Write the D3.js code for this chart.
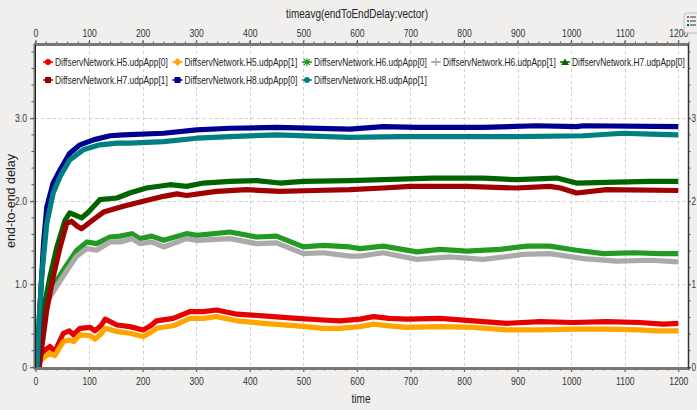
<!DOCTYPE html>
<html><head><meta charset="utf-8">
<script src="https://cdn.jsdelivr.net/npm/d3@7"></script>
<style>
html,body{margin:0;padding:0;background:#f0efed;}
svg{display:block;}
</style></head>
<body><svg id="chart" width="697" height="410"></svg>
<script>
// ---- data (time, value) ----
const seriesNames = ["DiffservNetwork.H5.udpApp[0]","DiffservNetwork.H5.udpApp[1]","DiffservNetwork.H6.udpApp[0]","DiffservNetwork.H6.udpApp[1]","DiffservNetwork.H7.udpApp[0]","DiffservNetwork.H7.udpApp[1]","DiffservNetwork.H8.udpApp[0]","DiffservNetwork.H8.udpApp[1]"];
const seriesColors = ["#e60000","#ffa500","#239b23","#aaaaaa","#006400","#a00000","#000090","#008080"];
const seriesMarkers = ["circle","diamond","star","plus","triangle","square","square","circle"];

const h5App0 = [[0,0],[8,0.13],[16,0.2],[27,0.25],[36,0.19],[52,0.41],[63,0.44],[71,0.39],[83,0.47],[102,0.48],[111,0.44],[122,0.5],[130,0.58],[152,0.51],[176,0.49],[201,0.45],[215,0.5],[226,0.56],[257,0.59],[288,0.67],[313,0.67],[338,0.69],[376,0.64],[425,0.62],[488,0.59],[537,0.57],[568,0.56],[606,0.58],[631,0.61],[660,0.59],[693,0.58],[755,0.59],[817,0.56],[880,0.53],[942,0.55],[1004,0.54],[1066,0.55],[1128,0.54],[1172,0.52],[1200,0.53]];
const h5App1 = [[0,0],[8,0.07],[16,0.12],[27,0.17],[36,0.14],[52,0.31],[63,0.33],[71,0.31],[83,0.39],[102,0.38],[111,0.34],[122,0.4],[130,0.47],[152,0.43],[176,0.41],[201,0.37],[215,0.42],[226,0.47],[257,0.5],[288,0.59],[313,0.59],[338,0.61],[376,0.56],[425,0.53],[488,0.5],[537,0.47],[568,0.47],[606,0.49],[631,0.52],[660,0.5],[693,0.48],[755,0.49],[817,0.48],[880,0.45],[942,0.45],[1004,0.46],[1066,0.46],[1128,0.45],[1160,0.44],[1200,0.44]];
const h6App0 = [[5,0],[10,0.45],[15,0.7],[21,0.85],[30,0.95],[40,1.05],[58,1.23],[77,1.41],[96,1.51],[114,1.49],[139,1.57],[158,1.58],[180,1.61],[195,1.55],[217,1.58],[239,1.53],[282,1.61],[301,1.59],[363,1.63],[413,1.57],[450,1.58],[500,1.45],[537,1.47],[587,1.45],[606,1.43],[649,1.46],[712,1.39],[755,1.42],[805,1.4],[867,1.42],[917,1.46],[960,1.46],[1010,1.41],[1060,1.37],[1116,1.38],[1166,1.37],[1200,1.37]];
const h6App1 = [[5,0],[10,0.38],[15,0.62],[21,0.77],[30,0.88],[40,0.98],[58,1.16],[77,1.34],[96,1.43],[114,1.41],[139,1.51],[158,1.51],[180,1.55],[195,1.49],[217,1.51],[239,1.45],[282,1.55],[301,1.53],[363,1.55],[413,1.49],[450,1.5],[500,1.37],[537,1.38],[587,1.34],[606,1.34],[649,1.38],[712,1.3],[773,1.33],[836,1.3],[910,1.36],[960,1.37],[1023,1.31],[1085,1.28],[1148,1.29],[1200,1.27]];
const h7App0 = [[5,0],[10,0.35],[15,0.69],[27,1.09],[40,1.45],[55,1.77],[64,1.86],[75,1.83],[86,1.8],[99,1.87],[120,2.02],[152,2.04],[176,2.1],[207,2.16],[251,2.2],[282,2.18],[313,2.22],[363,2.24],[413,2.25],[456,2.22],[500,2.24],[587,2.25],[649,2.26],[742,2.28],[836,2.28],[898,2.26],[973,2.28],[1010,2.22],[1085,2.23],[1148,2.24],[1200,2.24]];
const h7App1 = [[7,0],[14,0.35],[21,0.69],[33,1.09],[46,1.45],[58,1.73],[67,1.76],[78,1.7],[86,1.67],[102,1.75],[127,1.87],[164,1.94],[201,2.0],[239,2.06],[264,2.09],[282,2.07],[338,2.12],[394,2.14],[456,2.12],[520,2.13],[587,2.14],[649,2.16],[700,2.18],[805,2.18],[898,2.16],[960,2.18],[980,2.16],[1010,2.1],[1066,2.14],[1200,2.13]];
const h8App0 = [[3,0],[8,0.69],[15,1.49],[21,1.93],[33,2.22],[46,2.38],[64,2.58],[83,2.68],[108,2.74],[139,2.79],[164,2.8],[239,2.82],[301,2.86],[363,2.88],[450,2.89],[587,2.87],[649,2.9],[712,2.89],[836,2.89],[935,2.91],[1010,2.9],[1023,2.91],[1200,2.9]];
const h8App1 = [[3,0],[7,0.6],[11.5,1.09],[21,1.73],[33,2.1],[46,2.3],[64,2.5],[89,2.62],[120,2.68],[152,2.7],[176,2.7],[239,2.72],[301,2.76],[363,2.78],[450,2.8],[587,2.77],[680,2.78],[805,2.78],[898,2.78],[1023,2.79],[1097,2.82],[1148,2.81],[1200,2.8]];
const seriesValues = [h5App0,h5App1,h6App0,h6App1,h7App0,h7App1,h8App0,h8App1];

const xMajorTicks = [0,100,200,300,400,500,600,700,800,900,1000,1100,1200];
const yMajorTicks = [0,1,2,3];
const yTickLabels = ["0","1.0","2.0","3.0"];
const titleText = "timeavg(endToEndDelay:vector)";
const xLabel = "time";
const yLabel = "end-to-end delay";

// ---- layout ----
const svg = d3.select("#chart");
const L = 35, R = 688, T = 45, B = 368;
const x = d3.scaleLinear().domain([0,1200]).range([35.5,678.3]);
const y = d3.scaleLinear().domain([0,1]).range([367.3,284.3]);
const font = "'Liberation Sans', Arial, sans-serif";
const SX = 0.82; // horizontal condensing factor (narrow font look)

function condenseAxisText(g){
  g.selectAll("text").each(function(){
    const t = d3.select(this);
    const xv = +t.attr("x") || 0;
    t.attr("x", xv/SX).attr("transform",`scale(${SX},1)`)
     .attr("font-family",font).attr("font-size",10.5).attr("fill","#333");
  });
}
function narrowText(parent, px, py, str, opts={}){
  const g = parent.append("g").attr("transform",`translate(${px},${py}) scale(${opts.sx||SX},1)`);
  return g.append("text").attr("x",0).attr("y",0)
    .attr("text-anchor",opts.anchor||"start").attr("dy",opts.dy||null)
    .attr("font-family",font).attr("font-size",opts.size||10.5).attr("fill",opts.fill||"#222").text(str);
}

svg.append("rect").attr("width",697).attr("height",410).attr("fill","#f0efed");
svg.append("rect").attr("x",L).attr("y",T).attr("width",R-L).attr("height",B-T).attr("fill","#fff");

// grid
const gGrid = svg.append("g").attr("stroke","#cfcfcf").attr("stroke-dasharray","3,3").attr("stroke-width",1);
xMajorTicks.filter(d=>d>0).forEach(d=>{
  gGrid.append("line").attr("x1",Math.round(x(d))+0.5).attr("x2",Math.round(x(d))+0.5).attr("y1",T).attr("y2",B);
});
yMajorTicks.filter(d=>d>0).forEach(d=>{
  gGrid.append("line").attr("x1",L).attr("x2",R).attr("y1",Math.round(y(d))+0.5).attr("y2",Math.round(y(d))+0.5);
});

// clip
svg.append("clipPath").attr("id","clip").append("rect").attr("x",L+1).attr("y",T+1).attr("width",R-L-2).attr("height",B-T-1);

// lines
const line = d3.line().x(d=>x(d[0])).y(d=>y(d[1]));
const gLines = svg.append("g").attr("clip-path","url(#clip)");
seriesValues.forEach((s,i)=>{
  gLines.append("path").datum(s).attr("d",line).attr("fill","none")
    .attr("stroke",seriesColors[i]).attr("stroke-width",5.2)
    .attr("stroke-linejoin","round").attr("stroke-linecap","butt");
});

// axes
const xMinor = d3.range(0,1221,20);
const yMinor = d3.range(0,3.81,0.2);
// bottom axis
const bottomAxis = d3.axisBottom(x).tickValues(xMajorTicks).tickSize(4).tickFormat(d3.format("d"));
const gb = svg.append("g").attr("transform",`translate(0,${B})`).call(bottomAxis);
gb.select(".domain").remove();
condenseAxisText(gb);
gb.selectAll("text").attr("dy","0.95em");
gb.selectAll(".tick line").attr("stroke","#555");
svg.append("g").selectAll("line").data(xMinor).join("line")
  .attr("x1",d=>x(d)).attr("x2",d=>x(d)).attr("y1",B).attr("y2",B+2.5).attr("stroke","#555");
svg.append("line").attr("x1",L-1).attr("x2",R+1).attr("y1",B+0.5).attr("y2",B+0.5).attr("stroke","#777").attr("stroke-width",3);

// top axis
const topAxis = d3.axisTop(x).tickValues(xMajorTicks).tickSize(4).tickFormat(d3.format("d"));
const gt = svg.append("g").attr("transform",`translate(0,${T-1})`).call(topAxis);
gt.select(".domain").remove();
condenseAxisText(gt);
gt.selectAll(".tick line").attr("stroke","#555");
svg.append("g").selectAll("line").data(xMinor).join("line")
  .attr("x1",d=>x(d)).attr("x2",d=>x(d)).attr("y1",T-1).attr("y2",T-3.5).attr("stroke","#555");
svg.append("line").attr("x1",L-1).attr("x2",R+1).attr("y1",T-0.5).attr("y2",T-0.5).attr("stroke","#777").attr("stroke-width",3);

// left axis
const leftAxis = d3.axisLeft(y).tickValues(yMajorTicks).tickSize(4).tickFormat((d,i)=>yTickLabels[i]);
const gl = svg.append("g").attr("transform",`translate(${L-1},0)`).call(leftAxis);
gl.select(".domain").remove();
condenseAxisText(gl);
gl.selectAll(".tick line").attr("stroke","#555");
svg.append("g").selectAll("line").data(yMinor).join("line")
  .attr("x1",L-1).attr("x2",L-3.5).attr("y1",d=>y(d)).attr("y2",d=>y(d)).attr("stroke","#555");
svg.append("line").attr("x1",L-0.5).attr("x2",L-0.5).attr("y1",T-1).attr("y2",B+1).attr("stroke","#777").attr("stroke-width",2);
svg.append("line").attr("x1",L+0.5).attr("x2",L+0.5).attr("y1",T).attr("y2",B).attr("stroke","#222").attr("stroke-width",1);

// right axis
const rightAxis = d3.axisRight(y).tickValues(yMajorTicks).tickSize(3).tickFormat(d3.format("d"));
const gr = svg.append("g").attr("transform",`translate(${R},0)`).call(rightAxis);
gr.select(".domain").remove();
gr.selectAll("text").attr("x",3.6);
condenseAxisText(gr);
gr.selectAll("text").attr("font-size",10);
gr.selectAll(".tick line").attr("stroke","#555");
svg.append("g").selectAll("line").data(yMinor).join("line")
  .attr("x1",R).attr("x2",R+2.5).attr("y1",d=>y(d)).attr("y2",d=>y(d)).attr("stroke","#555");
svg.append("line").attr("x1",R+0.5).attr("x2",R+0.5).attr("y1",T-1).attr("y2",B+1).attr("stroke","#333").attr("stroke-width",1.5);

// titles
narrowText(svg, 357, 18, titleText, {anchor:"middle", size:12.5, sx:0.8});
narrowText(svg, 361, 403, xLabel, {anchor:"middle", size:12.5, sx:0.8});
svg.append("text").attr("transform","translate(15,201) rotate(-90)").attr("text-anchor","middle")
  .attr("font-family",font).attr("font-size",12.5).attr("fill","#222").text(yLabel);

// legend
const legCols = [48,177.5,307,436,565];
const legRows = [62,80];
const gLeg = svg.append("g");
seriesNames.forEach((name,i)=>{
  const cx = legCols[i%5], cy = legRows[Math.floor(i/5)];
  const c = seriesColors[i];
  const g = gLeg.append("g").attr("transform",`translate(${cx},${cy})`);
  g.append("line").attr("x1",-5).attr("x2",5).attr("y1",0).attr("y2",0).attr("stroke",c).attr("stroke-width",1.5);
  const m = seriesMarkers[i];
  if(m==="circle") g.append("circle").attr("r",3).attr("fill",c);
  else if(m==="diamond") g.append("path").attr("d",d3.symbol(d3.symbolDiamond2,40)()).attr("fill",c);
  else if(m==="square") g.append("rect").attr("x",-3).attr("y",-3).attr("width",6).attr("height",6).attr("fill",c);
  else if(m==="triangle") g.append("path").attr("d","M0,-3.5L4,3L-4,3Z").attr("fill",c);
  else if(m==="plus") g.append("path").attr("d","M0,-4V4M-4,0H4").attr("stroke",c).attr("stroke-width",1.4);
  else if(m==="star") g.append("path").attr("d","M0,-4V4M-4,0H4M-3,-3L3,3M3,-3L-3,3").attr("stroke",c).attr("stroke-width",1.1);
  narrowText(g, 7, 0, name, {dy:"0.35em", size:10.5, sx:0.8});
});

// legend toggle button (top-right)
const btn = svg.append("g").attr("transform","translate(684,13)");
btn.append("rect").attr("width",16).attr("height",20).attr("rx",3).attr("fill","#eeeeee").attr("stroke","#bdbdbd");
[["#e33",4],["#3a3",8],["#33e",12]].forEach(([c,yy])=>{
  btn.append("rect").attr("x",3).attr("y",yy-1).attr("width",2).attr("height",2).attr("fill",c);
  btn.append("line").attr("x1",6).attr("x2",12).attr("y1",yy).attr("y2",yy).attr("stroke","#333");
});
</script></body></html>
